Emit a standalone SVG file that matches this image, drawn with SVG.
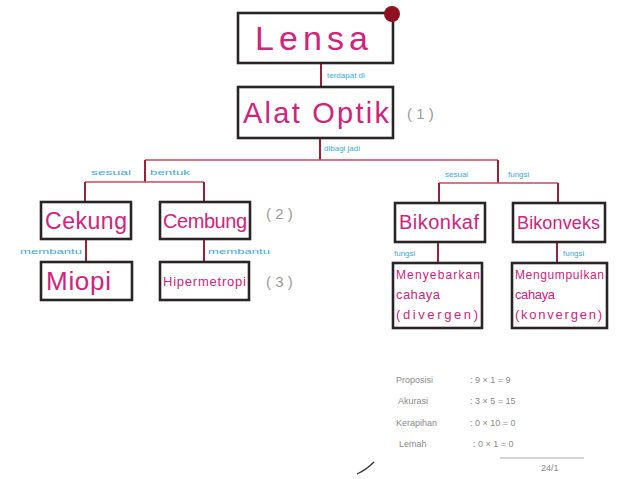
<svg xmlns="http://www.w3.org/2000/svg" width="628" height="479" viewBox="0 0 628 479">
<style>
.box{fill:#fff;stroke:#2b2426;stroke-width:2.6}
.lbl{fill:#d0237c;font-family:"Liberation Sans",sans-serif}
.con{stroke:#9a2238;stroke-width:2;fill:none}
.hz{stroke:#c8485e;stroke-width:1.6;fill:none}
.cy{fill:#3ea9d6;font-family:"Liberation Sans",sans-serif;font-size:8px}
.mark{fill:#9a9a9a;font-family:"Liberation Sans",sans-serif;font-size:15px}
.score{fill:#8a8a8a;font-family:"Liberation Sans",sans-serif;font-size:9px}
</style>
<rect width="628" height="479" fill="#fff"/>
<g id="connectors">
<path class="con" d="M321 63V87"/>
<path class="con" d="M320 138V160"/>
<path class="hz" d="M145 160H498"/>
<path class="con" d="M145 160V182"/>
<path class="hz" d="M85 182H204"/>
<path class="con" d="M85 182V202M204 182V202"/>
<path class="con" d="M498 160V183"/>
<path class="hz" d="M439 183H558"/>
<path class="con" d="M439 183V203M558 183V203"/>
<path class="con" d="M86 239V262M204 239V262"/>
<path class="con" d="M438 242V263M557 242V263"/>
<text class="cy" x="327" y="78">terdapat di</text>
<text class="cy" x="324" y="151">dibagi jadi</text>
<text class="cy" x="91" y="175" textLength="40" lengthAdjust="spacingAndGlyphs">sesuai</text>
<text class="cy" x="150" y="175" textLength="40" lengthAdjust="spacingAndGlyphs">bentuk</text>
<text class="cy" x="445" y="177">sesuai</text>
<text class="cy" x="508" y="177">fungsi</text>
<text class="cy" x="20" y="254" textLength="62" lengthAdjust="spacingAndGlyphs">membantu</text>
<text class="cy" x="208" y="254" textLength="62" lengthAdjust="spacingAndGlyphs">membantu</text>
<text class="cy" x="394" y="256">fungsi</text>
<text class="cy" x="563" y="256">fungsi</text>
</g>
<g id="lensa">
<rect class="box" x="238" y="13" width="155" height="50"/>
<text class="lbl" x="255" y="50" font-size="34" textLength="113">Lensa</text>
<circle cx="392" cy="14" r="8" fill="#8e1222"/>
</g>
<g id="alat-optik">
<rect class="box" x="238" y="87" width="155" height="51"/>
<text class="lbl" x="243" y="123" font-size="29" textLength="146">Alat Optik</text>
</g>
<g id="cekung">
<rect class="box" x="41" y="202" width="90" height="37"/>
<text class="lbl" x="45" y="229" font-size="23" textLength="82">Cekung</text>
</g>
<g id="cembung">
<rect class="box" x="160" y="202" width="90" height="37"/>
<text class="lbl" x="163" y="228" font-size="20" textLength="84">Cembung</text>
</g>
<g id="miopi">
<rect class="box" x="41" y="262" width="91" height="38"/>
<text class="lbl" x="46" y="290" font-size="26" textLength="65">Miopi</text>
</g>
<g id="hipermetropi">
<rect class="box" x="160" y="262" width="89" height="38"/>
<text class="lbl" x="163" y="286" font-size="13" textLength="83">Hipermetropi</text>
</g>
<g id="bikonkaf">
<rect class="box" x="395" y="203" width="90" height="39"/>
<text class="lbl" x="399" y="229" font-size="20" textLength="80">Bikonkaf</text>
</g>
<g id="bikonveks">
<rect class="box" x="513" y="203" width="92" height="39"/>
<text class="lbl" x="517" y="229" font-size="18" textLength="83">Bikonveks</text>
</g>
<g id="menyebarkan">
<rect class="box" x="393" y="263" width="89" height="65"/>
<text class="lbl" x="396" y="279" font-size="12" textLength="84">Menyebarkan</text>
<text class="lbl" x="396" y="299" font-size="13" textLength="44">cahaya</text>
<text class="lbl" x="396" y="319" font-size="13" textLength="82">(divergen)</text>
</g>
<g id="mengumpulkan">
<rect class="box" x="512" y="263" width="95" height="65"/>
<text class="lbl" x="515" y="279" font-size="12" textLength="89">Mengumpulkan</text>
<text class="lbl" x="515" y="299" font-size="13" textLength="40">cahaya</text>
<text class="lbl" x="515" y="319" font-size="13" textLength="87">(konvergen)</text>
</g>
<g id="marks">
<text class="mark" x="407" y="119">( 1 )</text>
<text class="mark" x="266" y="219">( 2 )</text>
<text class="mark" x="266" y="287">( 3 )</text>
</g>
<g id="score">
<text class="score" x="396" y="383">Proposisi</text>
<text class="score" x="470" y="383">: 9 × 1 = 9</text>
<text class="score" x="398" y="404">Akurasi</text>
<text class="score" x="470" y="404">: 3 × 5 = 15</text>
<text class="score" x="396" y="426">Kerapihan</text>
<text class="score" x="470" y="426">: 0 × 10 = 0</text>
<text class="score" x="399" y="447">Lemah</text>
<text class="score" x="473" y="447">: 0 × 1 = 0</text>
<path d="M500 458H584" stroke="#999" stroke-width="0.8"/>
<text class="score" x="541" y="471">24/1</text>
<path d="M357 474Q366 470 374 462" stroke="#333" stroke-width="1.3" fill="none"/>
</g>
</svg>
